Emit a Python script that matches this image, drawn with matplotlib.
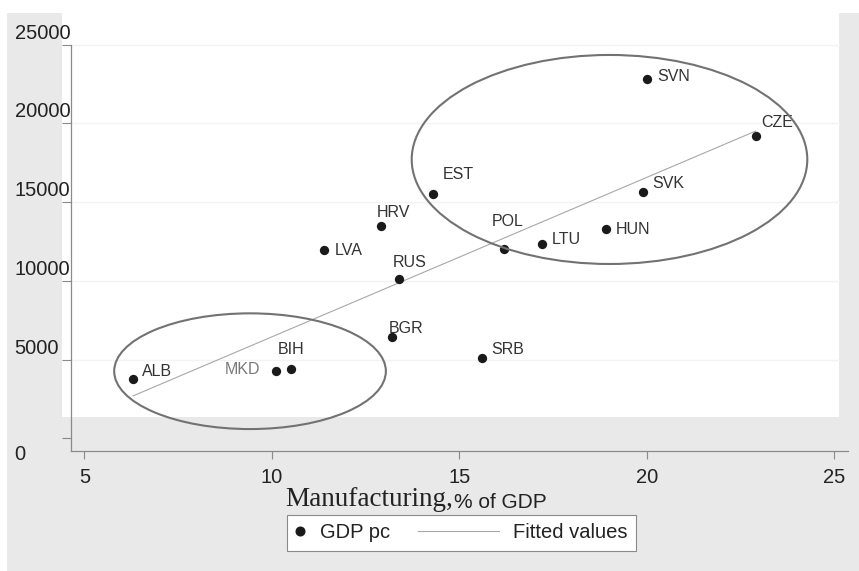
import numpy as np
import matplotlib
matplotlib.use("Agg")
import matplotlib.pyplot as plt
from matplotlib.patches import Ellipse, Rectangle
from matplotlib.lines import Line2D
from matplotlib.transforms import ScaledTranslation

# ---- data -------------------------------------------------------------
countries = ["ALB", "MKD", "BIH", "BGR", "SRB", "LVA", "HRV", "RUS",
             "EST", "POL", "LTU", "HUN", "SVK", "SVN", "CZE"]
manufacturing = [6.3, 10.1, 10.5, 13.2, 15.6, 11.4, 12.9, 13.4,
                 14.3, 16.2, 17.2, 18.9, 19.9, 20.0, 22.9]
gdp_pc = [3780, 4290, 4400, 6430, 5100, 11980, 13460, 10110,
          15490, 12000, 12340, 13290, 15620, 22810, 19210]

x_ticks = [5, 10, 15, 20, 25]
y_ticks = [0, 5000, 10000, 15000, 20000, 25000]

# ---- styling ----------------------------------------------------------
plt.rcParams["font.family"] = ["Liberation Sans", "DejaVu Sans"]
GRAY = "#e9e9e9"
INK = "#222222"
AXIS = "#8a8a8a"
DOT = "#1a1a1a"

# label placement around each point (pixels: dx, dy, horizontal alignment)
label_offsets = {
    "SVN": (10, 2.3, "left"), "CZE": (5.3, 13, "left"),
    "EST": (9.4, 20.3, "left"), "SVK": (9, 9, "left"),
    "POL": (-12.6, 27.3, "left"), "LTU": (9.7, 4, "left"),
    "HUN": (10.4, -0.3, "left"), "RUS": (-7, 16.3, "left"),
    "HRV": (-4, 14, "left"), "LVA": (10.7, -0.6, "left"),
    "ALB": (9.4, 7.4, "left"), "MKD": (-15.3, 1.4, "right"),
    "BIH": (-12.7, 19, "left"), "BGR": (-3.4, 8.7, "left"),
    "SRB": (9.3, 8.7, "left"),
}

W, H, DPI = 859, 571, 100
fig = plt.figure(figsize=(W / DPI, H / DPI), dpi=DPI, facecolor="white")


def fx(px):
    return px / W


def fy(py):
    return 1 - py / H


# outer gray graph region and white plot region
fig.patches.append(Rectangle((fx(7), 0), fx(W) - fx(7), fy(12.7),
                             transform=fig.transFigure, facecolor=GRAY,
                             edgecolor="none", zorder=-3))
fig.patches.append(Rectangle((fx(62), fy(416.7)), fx(839) - fx(62),
                             fy(12.7) - fy(416.7), transform=fig.transFigure,
                             facecolor="white", edgecolor="none", zorder=-2))

ax = fig.add_axes([fx(70.7), fy(450.7), fx(848) - fx(70.7), fy(12.7) - fy(450.7)])
ax.set_facecolor("none")
ax.set_xlim(4.637, 25.365)
ax.set_ylim(-787, 27020)

for side in ("top", "right"):
    ax.spines[side].set_visible(False)
for side in ("left", "bottom"):
    ax.spines[side].set_color(AXIS)
    ax.spines[side].set_linewidth(0.9)
ax.spines["left"].set_bounds(-787, 25000)

# faint horizontal grid inside the white region
grid_right = (839 - 70.7) / (848 - 70.7)
for yv in y_ticks[1:]:
    ax.axhline(yv, xmin=0, xmax=grid_right, color="#f3f3f3", lw=1, zorder=0)

ax.set_xticks(x_ticks)
ax.set_yticks(y_ticks)
ax.tick_params(axis="x", direction="out", length=5.5, width=0.8, color=AXIS,
               pad=7, labelsize=14.5, labelcolor=INK)
ax.tick_params(axis="y", direction="out", length=6.3, width=0.8, color=AXIS,
               pad=34, labelsize=14.5, labelcolor=INK)
for lab, v in zip(ax.get_yticklabels(), y_ticks):
    lab.set_horizontalalignment("left")
    dy = -14 if v == 0 else 13.5
    lab.set_transform(lab.get_transform() + ScaledTranslation(0, dy / DPI, fig.dpi_scale_trans))

# points, fitted line
x = np.array(manufacturing, dtype=float)
y = np.array(gdp_pc, dtype=float)
ax.scatter(x, y, s=45, color=DOT, linewidths=0, zorder=3)
slope, intercept = np.polyfit(x, y, 1)
xs = np.array([x.min(), x.max()])
fit_line, = ax.plot(xs, slope * xs + intercept, color="#a8a8a8", lw=0.8, zorder=2)

# country labels
for name, xv, yv in zip(countries, x, y):
    dx, dy, ha = label_offsets[name]
    ax.annotate(name, xy=(xv, yv), xytext=(dx, dy), textcoords="offset pixels",
                ha=ha, va="center", fontsize=11.5,
                color="#7a7a7a" if name == "MKD" else "#333333", zorder=4)

# highlighted country groups
ax.add_patch(Ellipse((19.005, 17702), 10.549, 13270, fill=False,
                     edgecolor="#727272", lw=1.5, zorder=5))
ax.add_patch(Ellipse((9.419, 4260), 7.245, 7346, fill=False,
                     edgecolor="#727272", lw=1.5, zorder=5))

# axis title: serif word followed by sans-serif unit
ax.set_xlabel("Manufacturing,", fontfamily=["Liberation Serif", "DejaVu Serif"],
              fontsize=19.5, color=INK, ha="left", va="baseline")
ax.xaxis.set_label_coords((285 - 70.7) / 777.3, -(506 - 450.7) / 438)
ax.annotate("% of GDP", xy=(1, 0), xycoords=ax.xaxis.label, xytext=(0.5, 0),
            textcoords="offset points", ha="left", va="bottom",
            fontsize=15, color=INK)


class FitLineHandler:
    """Legend handle whose line reaches back into the column gap."""

    def legend_artist(self, legend, orig_handle, fontsize, handlebox):
        w = handlebox.width
        yc = (handlebox.height - handlebox.ydescent) / 2
        ln = Line2D([w - 4.02 * fontsize, w], [yc, yc],
                    color=orig_handle.get_color(), lw=orig_handle.get_linewidth())
        handlebox.add_artist(ln)
        return ln


dot_handle = Line2D([], [], marker="o", linestyle="none", color=DOT, markersize=6.2)
leg = fig.legend([dot_handle, fit_line], ["GDP pc", "Fitted values"],
                 ncol=2, loc="center left", bbox_to_anchor=(fx(276.7), fy(533)),
                 frameon=True, fancybox=False, framealpha=1, facecolor="white",
                 edgecolor="#8a8a8a", borderpad=0.43, handlelength=0.5,
                 handletextpad=0.7, columnspacing=4.93, numpoints=1,
                 prop={"size": 14.5}, labelcolor=INK,
                 handler_map={fit_line: FitLineHandler()})
leg.get_frame().set_linewidth(0.8)

fig.savefig("out.png", dpi=DPI, facecolor="white")
